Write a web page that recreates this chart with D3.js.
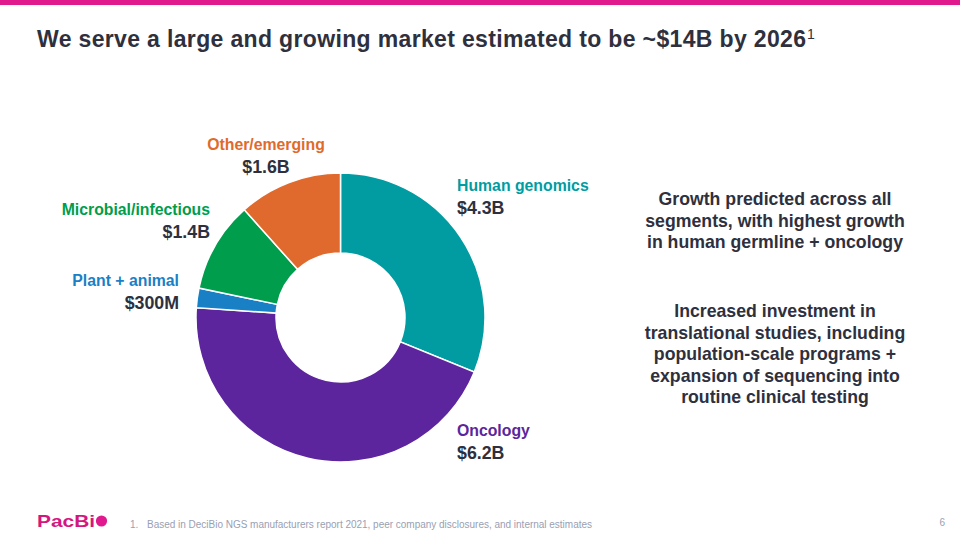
<!DOCTYPE html>
<html><head><meta charset="utf-8">
<script src="https://cdn.jsdelivr.net/npm/d3@7/dist/d3.min.js"></script>
<style>body{margin:0;background:#fff}svg{display:block;font-family:"Liberation Sans",Arial,sans-serif}</style>
</head><body><svg id="c" width="960" height="540"></svg>
<script>
const categories = ["Human genomics","Oncology","Plant + animal","Microbial/infectious","Other/emerging"];
const values = [4.3, 6.2, 0.3, 1.4, 1.6];
const valueLabels = ["$4.3B","$6.2B","$300M","$1.4B","$1.6B"];
const colors = ["#009CA1","#5C259D","#1A80C6","#009D4C","#E06A2D"];
const noteLines1 = ["Growth predicted across all","segments, with highest growth","in human germline + oncology"];
const noteLines2 = ["Increased investment in","translational studies, including","population-scale programs +","expansion of sequencing into","routine clinical testing"];

const svg = d3.select("#c");
svg.append("rect").attr("x",0).attr("y",0).attr("width",960).attr("height",5).attr("fill","#E0198E");

svg.append("text").attr("x",37).attr("y",47).attr("fill","#2E303D")
  .attr("font-size",23).attr("font-weight","bold")
  .attr("textLength",769).attr("lengthAdjust","spacing")
  .text("We serve a large and growing market estimated to be ~$14B by 2026");
svg.append("text").attr("x",807).attr("y",39).attr("fill","#2E303D").attr("font-size",14).text("1");

const cx=340.5, cy=317.5, rO=144.5, rI=64.5;
const pie = d3.pie().sort(null).value(d=>d)(values);
const arc = d3.arc().innerRadius(rI).outerRadius(rO);
const g = svg.append("g").attr("transform",`translate(${cx},${cy})`);
g.selectAll("path").data(pie).join("path").attr("d",arc)
  .attr("fill",(d,i)=>colors[i]).attr("stroke","#fff").attr("stroke-width",1.5);

const lab = [
  [457,191,"start"],
  [457,436,"start"],
  [179,286,"end"],
  [210,215,"end"],
  [266,150,"middle"]
];
categories.forEach((c,i)=>{
  const [x,y,a]=lab[i];
  svg.append("text").attr("x",x).attr("y",y).attr("text-anchor",a).attr("fill",colors[i])
    .attr("font-size",15.8).attr("font-weight","bold").text(c);
  svg.append("text").attr("x",x).attr("y",y+23).attr("text-anchor",a).attr("fill","#2E303D")
    .attr("font-size",17.8).attr("font-weight","bold").text(valueLabels[i]);
});

function block(lines,y0){
  lines.forEach((l,i)=>svg.append("text").attr("x",775).attr("y",y0+i*21.5).attr("text-anchor","middle")
    .attr("fill","#2E303D").attr("font-size",17.7).attr("font-weight","bold").text(l));
}
block(noteLines1,205);
block(noteLines2,317);

// footer
svg.append("text").attr("x",37).attr("y",527).attr("fill","#D4167F").attr("font-size",16.5).attr("font-weight","bold")
  .attr("textLength",58).attr("lengthAdjust","spacingAndGlyphs").text("PacBi");
svg.append("circle").attr("cx",101.5).attr("cy",521).attr("r",5.6).attr("fill","#E0198E");
svg.append("text").attr("x",130).attr("y",528).attr("fill","#9AA0B2").attr("font-size",10).text("1.");
svg.append("text").attr("x",147).attr("y",528).attr("fill","#9AA0B2").attr("font-size",10)
  .attr("textLength",445).attr("lengthAdjust","spacing")
  .text("Based in DeciBio NGS manufacturers report 2021, peer company disclosures, and internal estimates");
svg.append("text").attr("x",945).attr("y",526).attr("text-anchor","end").attr("fill","#9AA0B2").attr("font-size",10).text("6");
</script></body></html>
